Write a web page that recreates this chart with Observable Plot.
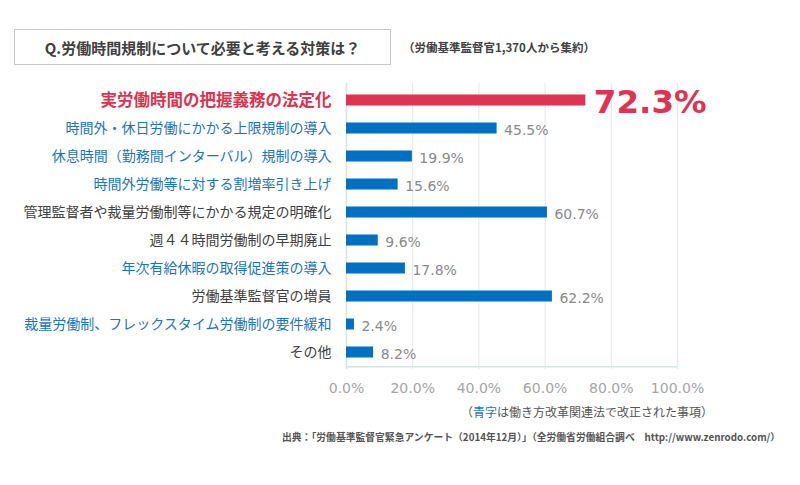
<!DOCTYPE html>
<html><head><meta charset="utf-8">
<script src="https://cdn.jsdelivr.net/npm/d3@7"></script>
<script src="https://cdn.jsdelivr.net/npm/@observablehq/plot@0.6"></script>
<style>
body{margin:0;background:#fff;font-family:"Noto Sans CJK JP",sans-serif;}
#wrap{position:relative;width:800px;height:485px;overflow:hidden;}
#chart{position:absolute;left:0;top:0;}
.box{position:absolute;left:14px;top:29px;width:377px;height:36px;border:1.5px solid #c8c8c8;box-sizing:border-box;
 font-weight:bold;font-size:15px;color:#404040;display:flex;align-items:center;justify-content:center;}
.sub{position:absolute;left:403px;top:39px;font-size:11.5px;font-weight:bold;color:#404040;white-space:nowrap;}
.note{position:absolute;right:87px;top:403px;font-size:12px;color:#555;white-space:nowrap;}
.note span{color:#1b75bb;}
.src{position:absolute;left:282px;top:430px;font-size:9.8px;color:#555;font-weight:bold;white-space:nowrap;}
</style></head>
<body>
<div id="wrap">
<div id="chart"></div>
<div class="box" id="title"></div>
<div class="sub" id="subtitle"></div>
<div class="note" id="note"></div>
<div class="src" id="source"></div>
</div>
<script>
const titleText = "Q.労働時間規制について必要と考える対策は？";
const subtitleText = "（労働基準監督官1,370人から集約）";
const notePrefix = "（";
const noteBlue = "青字";
const noteRest = "は働き方改革関連法で改正された事項）";
const sourceText = "出典：「労働基準監督官緊急アンケート（2014年12月）」（全労働省労働組合調べ　http://www.zenrodo.com/）";

const categories = [
  "実労働時間の把握義務の法定化",
  "時間外・休日労働にかかる上限規制の導入",
  "休息時間（勤務間インターバル）規制の導入",
  "時間外労働等に対する割増率引き上げ",
  "管理監督者や裁量労働制等にかかる規定の明確化",
  "週４４時間労働制の早期廃止",
  "年次有給休暇の取得促進策の導入",
  "労働基準監督官の増員",
  "裁量労働制、フレックスタイム労働制の要件緩和",
  "その他"
];
const values = [72.3, 45.5, 19.9, 15.6, 60.7, 9.6, 17.8, 62.2, 2.4, 8.2];
// label type: "highlight", "revised" (blue text), "other"
const labelTypes = ["highlight","revised","revised","revised","other","other","revised","other","revised","other"];
const xTicks = [0, 20, 40, 60, 80, 100];

const labelColor = {highlight:"#dc3250", revised:"#1b75bb", other:"#404040"};
const data = categories.map((c,i)=>({cat:c, value:values[i], type:labelTypes[i]}));
const highlight = data.filter(d=>d.type==="highlight");
const rest = data.filter(d=>d.type!=="highlight");

document.getElementById("title").textContent = titleText;
document.getElementById("subtitle").textContent = subtitleText;
document.getElementById("note").innerHTML = notePrefix + "<span>" + noteBlue + "</span>" + noteRest;
document.getElementById("source").textContent = sourceText;

const numFont = "DejaVu Sans, Verdana, sans-serif";

const plot = Plot.plot({
  width: 800, height: 485,
  marginLeft: 346, marginRight: 123, marginTop: 83, marginBottom: 116,
  style: {background: "transparent", fontFamily: "Noto Sans CJK JP, sans-serif"},
  x: {domain: [0, 100], axis: null, label: null},
  y: {domain: categories, padding: 0, axis: null},
  marks: [
    Plot.ruleX(xTicks.slice(1, -1), {stroke: "#e6e6e6", strokeWidth: 1}),
    Plot.ruleX([100], {stroke: "#e3ebee", strokeWidth: 1.5}),
    Plot.ruleX([0], {stroke: "#d6e4ea", strokeWidth: 1.5}),
    Plot.ruleY([categories[categories.length - 1]], {x1: 0, x2: 100, dy: 14.3, stroke: "#d6e4ea", strokeWidth: 1.5}),
    Plot.axisX(xTicks, {anchor: "bottom", label: null, tickSize: 0, tickPadding: 14,
      tickFormat: d => d.toFixed(1) + "%", fontSize: 14, fill: "#a6a6a6", fontFamily: numFont}),
    Plot.barX(data, {x: "value", y: "cat", fill: d => d.type==="highlight" ? "#df3352" : "#0070c0",
      insetTop: 8.5, insetBottom: 8.5}),
    Plot.text(rest, {x: 0, y: "cat", text: "cat", textAnchor: "end", dx: -15, dy: 0.5,
      fill: d => labelColor[d.type], fontSize: 14}),
    Plot.text(highlight, {x: 0, y: "cat", text: "cat", textAnchor: "end", dx: -15, dy: 0,
      fill: labelColor.highlight, fontSize: 16.5, fontWeight: "bold"}),
    Plot.text(rest, {x: "value", y: "cat", text: d => d.value.toFixed(1) + "%", textAnchor: "start",
      dx: 7, dy: 2.5, fill: "#8a8a8a", fontSize: 14, fontFamily: numFont}),
    Plot.text(highlight, {x: "value", y: "cat", text: d => d.value.toFixed(1) + "%", textAnchor: "start",
      dx: 8, dy: 2.5, fill: "#df3352", fontSize: 32.5, fontWeight: "bold", fontFamily: numFont})
  ]
});
document.getElementById("chart").appendChild(plot);
</script>
</body></html>
